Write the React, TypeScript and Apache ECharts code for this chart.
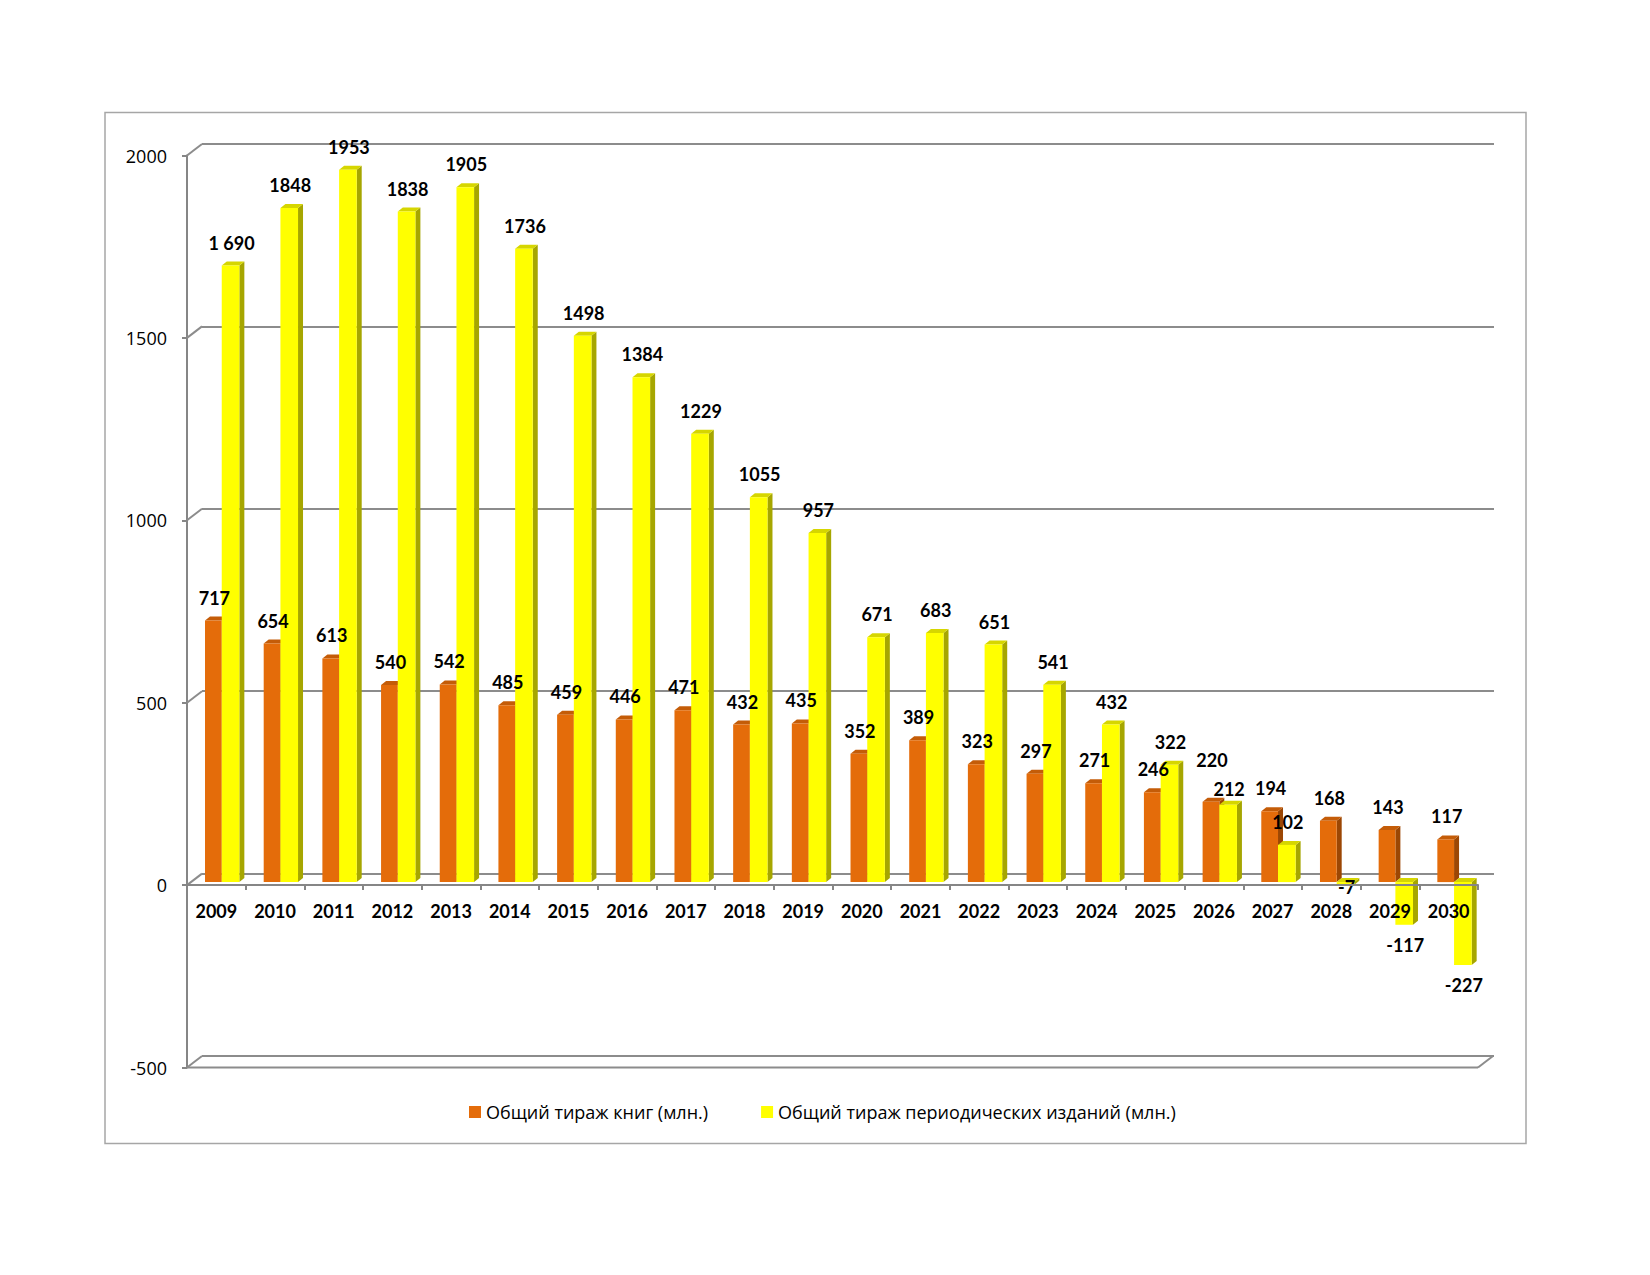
import React, { useEffect, useRef } from "react";
import * as echarts from "echarts";

// годы
const categories = [
  "2009", "2010", "2011", "2012", "2013", "2014", "2015", "2016", "2017", "2018", "2019",
  "2020", "2021", "2022", "2023", "2024", "2025", "2026", "2027", "2028", "2029", "2030",
];

// общий тираж книг (млн.)
const bookCirculation = [
  717, 654, 613, 540, 542, 485, 459, 446, 471, 432, 435,
  352, 389, 323, 297, 271, 246, 220, 194, 168, 143, 117,
];

// общий тираж периодических изданий (млн.)
const periodicalCirculation = [
  1690, 1848, 1953, 1838, 1905, 1736, 1498, 1384, 1229, 1055, 957,
  671, 683, 651, 541, 432, 322, 212, 102, -7, -117, -227,
];

const yTicks = [-500, 0, 500, 1000, 1500, 2000];

const BOOKS = "Общий тираж книг (млн.)";
const PERIODICALS = "Общий тираж периодических изданий (млн.)";

// размеры плоскости
const GRID_LEFT = 187;
const GRID_TOP = 155.5;
const GRID_W = 1291;
const GRID_H = 912;
const ZERO_OFFSET = -(GRID_H * 500) / 2500; // ось категорий на нуле

// глубина "3D" стенок
const WALL_DX = 15;
const WALL_DY = -11.5;
const BAR_DX = 5;
const BAR_DY = -4;

const labelFont = "bold 18px Lato";
const axisFont = "Open Sans";

// подписи, сдвинутые вручную как в оригинале (индекс -> dy)
const bookNudge: Record<number, number> = { 17: -19 };
const periodicalNudge: Record<number, number> = { 17: 7, 19: -18 };

const fmt = (v: number) => (v === 1690 ? "1 690" : String(v));

function barRenderer(
  offset: number,
  widthK: number,
  layer: number,
  colors: { front: string; top: string; side: string },
  nudge: Record<number, number>
) {
  return (params: any, api: any) => {
    const i = api.value(0);
    const v = api.value(1);
    const w = api.size([1, 0])[0];
    const base = api.coord([i, 0]);
    const end = api.coord([i, v]);
    const x0 = base[0] - w / 2 + w * offset;
    const bw = w * widthK;
    const yTop = Math.min(base[1], end[1]) - 3;
    const yBot = Math.max(base[1], end[1]) - 3;
    const ly = (v >= 0 ? yTop - 23 : yBot + 20) + (nudge[i] || 0);
    return {
      type: "group",
      children: [
        {
          type: "polygon",
          z2: layer,
          shape: {
            points: [
              [x0 + bw, yTop],
              [x0 + bw + BAR_DX, yTop + BAR_DY],
              [x0 + bw + BAR_DX, yBot + BAR_DY],
              [x0 + bw, yBot],
            ],
          },
          style: { fill: colors.side },
        },
        {
          type: "polygon",
          z2: layer,
          shape: {
            points: [
              [x0, yTop],
              [x0 + BAR_DX, yTop + BAR_DY],
              [x0 + bw + BAR_DX, yTop + BAR_DY],
              [x0 + bw, yTop],
            ],
          },
          style: { fill: colors.top },
        },
        {
          type: "rect",
          z2: layer,
          shape: { x: x0, y: yTop, width: bw, height: Math.max(yBot - yTop, 0.5) },
          style: { fill: colors.front },
        },
        {
          type: "text",
          x: x0 + bw / 2 + 1,
          y: ly,
          z2: 50,
          style: {
            text: fmt(v),
            font: labelFont,
            fill: "#000000",
            align: "center",
            verticalAlign: "middle",
          },
        },
      ],
    };
  };
}

// диагонали у оси значений и "пол" на -500
function frameRenderer(params: any, api: any) {
  const v = api.value(1);
  const w = api.size([1, 0])[0];
  const p = api.coord([0, v]);
  const x0 = p[0] - w / 2;
  const lineStyle = { stroke: "#8c8c8c", lineWidth: 2 };
  const children: any[] = [
    {
      type: "line",
      shape: { x1: x0, y1: p[1], x2: x0 + WALL_DX, y2: p[1] + WALL_DY },
      style: lineStyle,
    },
  ];
  if (v === yTicks[0]) {
    const xr = api.coord([categories.length - 1, v])[0] + w / 2;
    children.push(
      { type: "line", shape: { x1: x0, y1: p[1], x2: xr, y2: p[1] }, style: lineStyle },
      {
        type: "line",
        shape: { x1: xr, y1: p[1], x2: xr + WALL_DX, y2: p[1] + WALL_DY },
        style: lineStyle,
      }
    );
  }
  return { type: "group", children };
}

const App: React.FC = () => {
  const chartRef = useRef<HTMLDivElement>(null);

  useEffect(() => {
    document.body.style.margin = "0";
    const chart = echarts.init(chartRef.current, null, { renderer: "svg" });

    const option: any = {
      animation: false,
      backgroundColor: "#ffffff",
      graphic: [
        {
          type: "rect",
          shape: { x: 105, y: 112.5, width: 1421, height: 1031 },
          style: { fill: "none", stroke: "#a6a6a6", lineWidth: 1.5 },
          silent: true,
        },
      ],
      legend: {
        left: 464,
        top: 1098,
        itemWidth: 12,
        itemHeight: 12,
        itemGap: 53,
        selectedMode: false,
        icon: "rect",
        textStyle: { fontFamily: axisFont, fontSize: 18, color: "#000000" },
        data: [BOOKS, PERIODICALS],
      },
      grid: [
        // передняя плоскость
        { left: GRID_LEFT, top: GRID_TOP, width: GRID_W, height: GRID_H },
        // задняя стенка
        { left: GRID_LEFT + WALL_DX, top: GRID_TOP + WALL_DY, width: GRID_W + 1, height: GRID_H },
      ],
      xAxis: [
        {
          type: "category",
          gridIndex: 0,
          data: categories,
          z: 10,
          offset: ZERO_OFFSET,
          axisLine: { onZero: false, lineStyle: { color: "#868686", width: 2 } },
          axisTick: { show: true, length: 5, lineStyle: { color: "#868686", width: 2 } },
          axisLabel: {
            margin: 17,
            fontFamily: "Lato",
            fontWeight: "bold",
            fontSize: 18,
            color: "#000000",
          },
        },
        { type: "category", gridIndex: 1, data: categories, show: false },
      ],
      yAxis: [
        {
          type: "value",
          gridIndex: 0,
          min: -500,
          max: 2000,
          interval: 500,
          axisLine: { show: true, lineStyle: { color: "#868686", width: 2 } },
          axisTick: { show: true, length: 5, lineStyle: { color: "#868686", width: 2 } },
          axisLabel: {
            margin: 20,
            fontFamily: axisFont,
            fontSize: 18,
            color: "#000000",
            formatter: (v: number) => String(v),
          },
          splitLine: { show: false },
        },
        {
          type: "value",
          gridIndex: 1,
          min: -500,
          max: 2000,
          interval: 500,
          axisLine: { show: false },
          axisTick: { show: false },
          axisLabel: { show: false },
          splitLine: { lineStyle: { color: "#8c8c8c", width: 2 } },
        },
      ],
      series: [
        {
          type: "custom",
          name: "frame",
          xAxisIndex: 0,
          yAxisIndex: 0,
          silent: true,
          renderItem: frameRenderer,
          data: yTicks.map((v) => [0, v]),
          z: 1,
        },
        {
          type: "custom",
          name: BOOKS,
          xAxisIndex: 0,
          yAxisIndex: 0,
          itemStyle: { color: "#E46C0A" },
          renderItem: barRenderer(
            0.307,
            0.285,
            1,
            { front: "#E46C0A", top: "#C45C08", side: "#9C4704" },
            bookNudge
          ),
          data: bookCirculation.map((v, i) => [i, v]),
          z: 3,
        },
        {
          type: "custom",
          name: PERIODICALS,
          xAxisIndex: 0,
          yAxisIndex: 0,
          itemStyle: { color: "#FFFF00" },
          renderItem: barRenderer(
            0.592,
            0.3,
            2,
            { front: "#FFFF00", top: "#D6D600", side: "#A6A600" },
            periodicalNudge
          ),
          data: periodicalCirculation.map((v, i) => [i, v]),
          z: 3,
        },
      ],
    };

    chart.setOption(option);
    return () => {
      chart.dispose();
    };
  }, []);

  return <div ref={chartRef} style={{ width: "1650px", height: "1275px" }} />;
};

export default App;
